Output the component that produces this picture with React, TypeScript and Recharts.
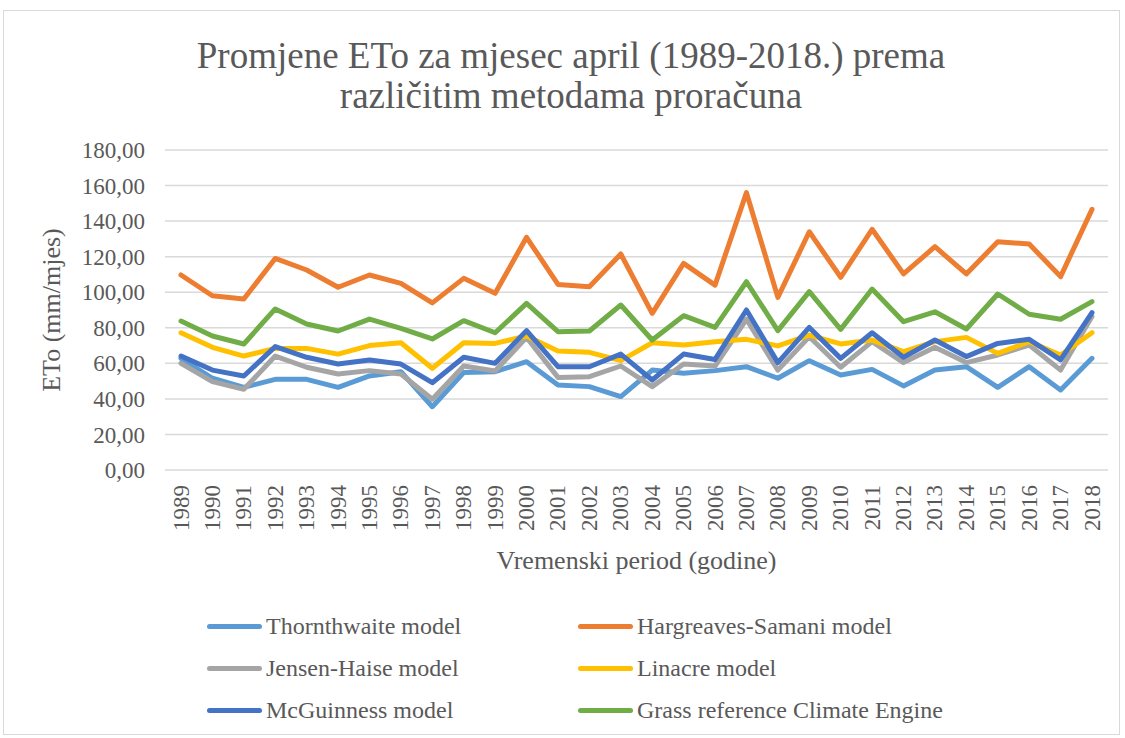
import { CartesianGrid, Label, Line, LineChart, XAxis, YAxis } from "recharts";

const years = [
  "1989", "1990", "1991", "1992", "1993", "1994", "1995", "1996", "1997", "1998",
  "1999", "2000", "2001", "2002", "2003", "2004", "2005", "2006", "2007", "2008",
  "2009", "2010", "2011", "2012", "2013", "2014", "2015", "2016", "2017", "2018",
];

const thornthwaite = [
  62.8, 51.6, 46.5, 51.0, 51.0, 46.5, 52.9, 55.3, 35.6, 54.8,
  55.3, 60.9, 47.8, 46.9, 41.3, 56.2, 54.4, 55.9, 58.1, 51.6,
  61.5, 53.4, 56.6, 47.3, 56.2, 58.1, 46.5, 58.1, 45.0, 62.8,
];
const hargreaves = [
  109.7, 98.0, 96.2, 119.0, 112.5, 102.8, 109.7, 105.0, 94.0, 107.8,
  99.4, 130.9, 104.4, 103.1, 121.5, 88.1, 116.2, 104.0, 156.0, 97.1,
  134.0, 108.4, 135.4, 110.3, 125.6, 110.3, 128.4, 127.1, 108.8, 146.6,
];
const jensenHaise = [
  60.0, 49.7, 45.4, 64.1, 57.8, 54.0, 55.9, 54.0, 39.8, 58.5,
  55.7, 74.6, 52.1, 52.5, 58.5, 46.9, 59.6, 58.5, 84.8, 56.2,
  75.0, 57.8, 72.2, 60.4, 69.0, 60.4, 64.7, 70.3, 56.2, 86.3,
];
const linacre = [
  77.2, 69.0, 64.1, 68.4, 68.4, 65.2, 70.0, 71.6, 57.2, 71.6,
  71.2, 75.4, 66.9, 66.2, 61.5, 71.6, 70.3, 72.2, 73.5, 69.8,
  75.9, 70.9, 73.1, 66.6, 72.2, 74.6, 65.6, 72.2, 64.7, 77.2,
];
const mcguinness = [
  64.1, 56.2, 52.9, 69.4, 63.4, 59.6, 61.9, 59.6, 49.1, 63.4,
  60.0, 78.4, 58.1, 58.1, 65.2, 50.6, 65.2, 62.2, 90.0, 60.4,
  80.2, 62.8, 77.2, 63.4, 73.1, 63.8, 71.2, 73.5, 61.9, 88.5,
];
const grassRef = [
  83.8, 75.4, 70.9, 90.6, 82.1, 78.2, 84.9, 79.7, 73.7, 84.0,
  77.2, 93.7, 77.8, 78.2, 92.8, 73.1, 86.8, 80.2, 105.9, 78.4,
  100.3, 79.1, 101.8, 83.4, 89.0, 79.3, 99.0, 87.6, 84.8, 94.7,
];

const yTicks = [0, 20, 40, 60, 80, 100, 120, 140, 160, 180];

const series = [
  { key: "thornthwaite", name: "Thornthwaite model", color: "#5B9BD5", values: thornthwaite },
  { key: "hargreaves", name: "Hargreaves-Samani model", color: "#ED7D31", values: hargreaves },
  { key: "jensenHaise", name: "Jensen-Haise model", color: "#A5A5A5", values: jensenHaise },
  { key: "linacre", name: "Linacre model", color: "#FFC000", values: linacre },
  { key: "mcguinness", name: "McGuinness model", color: "#4472C4", values: mcguinness },
  { key: "grassRef", name: "Grass reference Climate Engine", color: "#70AD47", values: grassRef },
];

const data = years.map((year, i) => {
  const row: Record<string, string | number> = { year };
  series.forEach((s) => {
    row[s.key] = s.values[i];
  });
  return row;
});

const FONT = "'Liberation Serif', 'Times New Roman', serif";
const TEXT = "#595959";

function YearTick({ x, y, payload }: any) {
  return (
    <text
      x={x}
      y={y}
      transform={`rotate(-90, ${x}, ${y})`}
      textAnchor="end"
      dominantBaseline="central"
      fill={TEXT}
      fontSize={23}
      style={{ fontFamily: FONT }}
    >
      {payload.value}
    </text>
  );
}

function YTitle({ viewBox }: any) {
  const bx = 60;
  const cy = viewBox.y + viewBox.height / 2;
  return (
    <text
      x={bx}
      y={cy}
      transform={`rotate(-90, ${bx}, ${cy})`}
      textAnchor="middle"
      fill={TEXT}
      fontSize={26}
      style={{ fontFamily: FONT }}
    >
      ETo (mm/mjes)
    </text>
  );
}

function XTitle({ viewBox }: any) {
  return (
    <text
      x={viewBox.x + viewBox.width / 2}
      y={viewBox.y + 99}
      textAnchor="middle"
      fill={TEXT}
      fontSize={26}
      style={{ fontFamily: FONT }}
    >
      Vremenski period (godine)
    </text>
  );
}

export default function App() {
  return (
    <div
      style={{
        position: "absolute",
        left: 0,
        top: 0,
        width: 1125,
        height: 738,
        background: "#fff",
        fontFamily: FONT,
      }}
    >
      <div
        style={{
          position: "absolute",
          left: 3,
          top: 10,
          width: 1117,
          height: 725,
          boxSizing: "border-box",
          border: "1px solid #d9d9d9",
        }}
      />
      <div
        style={{
          position: "absolute",
          left: 21,
          top: 36,
          width: 1100,
          textAlign: "center",
          fontFamily: FONT,
          fontSize: 37,
          lineHeight: "40px",
          color: TEXT,
        }}
      >
        Promjene ETo za mjesec april (1989-2018.) prema
        <br />
        različitim metodama proračuna
      </div>
      <div style={{ position: "absolute", left: 0, top: 0 }}>
        <LineChart width={1125} height={738} data={data} margin={{ top: 150, right: 17, bottom: 168, left: 25 }}>
          <CartesianGrid vertical={false} stroke="#d9d9d9" strokeWidth={1.5} />
          <XAxis
            dataKey="year"
            interval={0}
            axisLine={false}
            tickLine={false}
            tickSize={0}
            tickMargin={15}
            height={100}
            padding={{ left: 16, right: 16 }}
            tick={<YearTick />}
          >
            <Label content={<XTitle />} />
          </XAxis>
          <YAxis
            domain={[0, 180]}
            ticks={yTicks}
            interval={0}
            width={140}
            axisLine={false}
            tickLine={false}
            tickSize={0}
            tickMargin={20}
            tickFormatter={(v: number) => v.toFixed(2).replace(".", ",")}
            tick={{ fill: TEXT, fontSize: 23, style: { fontFamily: FONT } }}
          >
            <Label content={<YTitle />} />
          </YAxis>
          {series.map((s) => (
            <Line
              key={s.key}
              dataKey={s.key}
              name={s.name}
              stroke={s.color}
              strokeWidth={5}
              dot={false}
              strokeLinejoin="round"
              strokeLinecap="round"
              isAnimationActive={false}
            />
          ))}
        </LineChart>
      </div>
      {series.map((s, i) => (
        <div
          key={s.key}
          style={{
            position: "absolute",
            left: i % 2 === 0 ? 207 : 578,
            top: 611 + Math.floor(i / 2) * 42,
            height: 30,
            display: "flex",
            alignItems: "center",
            fontFamily: FONT,
            fontSize: 24,
            color: TEXT,
            whiteSpace: "nowrap",
          }}
        >
          <span
            style={{
              display: "inline-block",
              width: 55,
              height: 5,
              borderRadius: 3,
              background: s.color,
              marginRight: 4,
            }}
          />
          {s.name}
        </div>
      ))}
    </div>
  );
}
